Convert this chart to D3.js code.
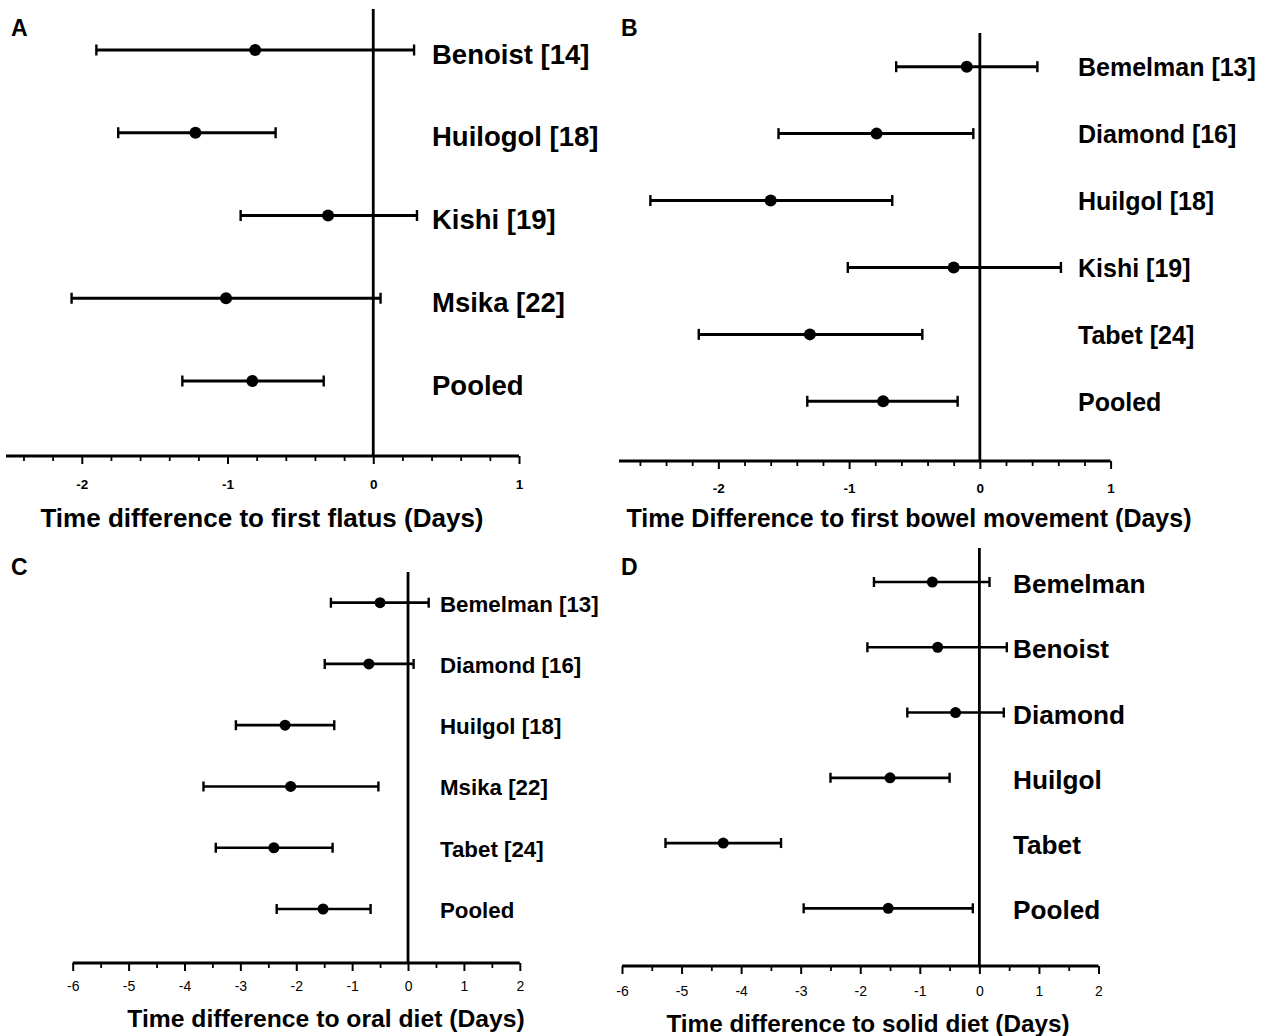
<!DOCTYPE html>
<html>
<head>
<meta charset="utf-8">
<script src="https://cdn.jsdelivr.net/npm/d3@7"></script>
<style>
    body { margin: 0; background: #fff; }
    svg { display: block; font-family: "Liberation Sans", Arial, sans-serif; }
</style>
</head>
<body>
<svg id="chart"></svg>
<script>
// Panel A - first flatus
const studiesA = ["Benoist [14]", "Huilogol [18]", "Kishi [19]", "Msika [22]", "Pooled"];
const meanA = [-0.81, -1.22, -0.31, -1.01, -0.83];
const lowA = [-1.90, -1.75, -0.91, -2.07, -1.31];
const highA = [0.28, -0.67, 0.30, 0.05, -0.34];
const ticksA = [-2, -1, 0, 1];

// Panel B - first bowel movement
const studiesB = ["Bemelman [13]", "Diamond [16]", "Huilgol [18]", "Kishi [19]", "Tabet [24]", "Pooled"];
const meanB = [-0.10, -0.79, -1.60, -0.20, -1.30, -0.74];
const lowB = [-0.64, -1.54, -2.52, -1.01, -2.15, -1.32];
const highB = [0.44, -0.05, -0.67, 0.62, -0.44, -0.17];
const ticksB = [-2, -1, 0, 1];

// Panel C - oral diet
const studiesC = ["Bemelman [13]", "Diamond [16]", "Huilgol [18]", "Msika [22]", "Tabet [24]", "Pooled"];
const meanC = [-0.50, -0.70, -2.20, -2.10, -2.40, -1.52];
const lowC = [-1.38, -1.49, -3.08, -3.66, -3.44, -2.35];
const highC = [0.37, 0.10, -1.32, -0.53, -1.35, -0.67];
const ticksC = [-6, -5, -4, -3, -2, -1, 0, 1, 2];

// Panel D - solid diet
const studiesD = ["Bemelman", "Benoist", "Diamond", "Huilgol", "Tabet", "Pooled"];
const meanD = [-0.79, -0.70, -0.40, -1.50, -4.30, -1.53];
const lowD = [-1.77, -1.88, -1.21, -2.50, -5.27, -2.95];
const highD = [0.17, 0.46, 0.41, -0.50, -3.33, -0.11];
const ticksD = [-6, -5, -4, -3, -2, -1, 0, 1, 2];

const svg = d3.select("#chart").attr("width", 1267).attr("height", 1036);
svg.append("rect").attr("width", 1267).attr("height", 1036).attr("fill", "#fff");

const panels = [
    {
        letter: "A", letterX: 11, letterY: 36,
        studies: studiesA, mean: meanA, low: lowA, high: highA, ticks: ticksA,
        domain: [-2.52, 1], range: [6, 519], minorStep: 0.2,
        rows: [50, 381], lineTop: 9, axisY: 456,
        labelX: 432, labelSize: 27.5, labelDy: 4,
        tickBold: true, tickSize: 13.5, tickY: 489,
        title: "Time difference to first flatus (Days)", titleX: 262, titleY: 527, titleSize: 26,
        capH: 11, r: 6, barW: 3, axisW: 3.2
    },
    {
        letter: "B", letterX: 621, letterY: 36,
        studies: studiesB, mean: meanB, low: lowB, high: highB, ticks: ticksB,
        domain: [-2.76, 1], range: [619, 1110.6], minorStep: 0.2,
        rows: [66.7, 401.3], lineTop: 33, axisY: 461,
        labelX: 1078, labelSize: 25, labelDy: 1,
        tickBold: true, tickSize: 13.5, tickY: 493,
        title: "Time Difference to first bowel movement (Days)", titleX: 909, titleY: 527, titleSize: 25,
        capH: 11, r: 6, barW: 3, axisW: 3.2
    },
    {
        letter: "C", letterX: 11, letterY: 575,
        studies: studiesC, mean: meanC, low: lowC, high: highC, ticks: ticksC,
        domain: [-6, 2], range: [72.7, 519.8], minorStep: 0.5,
        rows: [602.7, 909], lineTop: 572, axisY: 963,
        labelX: 440, labelSize: 22.3, labelDy: 1,
        tickBold: false, tickSize: 14, tickY: 991,
        title: "Time difference to oral diet (Days)", titleX: 326, titleY: 1027, titleSize: 24.7,
        capH: 10, r: 5.5, barW: 2.7, axisW: 2.8
    },
    {
        letter: "D", letterX: 621, letterY: 575,
        studies: studiesD, mean: meanD, low: lowD, high: highD, ticks: ticksD,
        domain: [-6, 2], range: [622, 1098.5], minorStep: 0.5,
        rows: [582, 908.3], lineTop: 548, axisY: 966,
        labelX: 1013, labelSize: 26.2, labelDy: 2,
        tickBold: false, tickSize: 14, tickY: 996,
        title: "Time difference to solid diet (Days)", titleX: 868, titleY: 1032, titleSize: 24.3,
        capH: 10, r: 5.5, barW: 2.7, axisW: 2.8
    }
];

panels.forEach(p => {
    const g = svg.append("g");
    const x = d3.scaleLinear().domain(p.domain).range(p.range);
    const y = d3.scalePoint().domain(p.studies).range(p.rows);

    // panel letter
    g.append("text")
        .attr("x", p.letterX)
        .attr("y", p.letterY)
        .attr("font-size", 23)
        .attr("font-weight", "bold")
        .text(p.letter);

    // minor ticks
    const minor = d3.range(Math.ceil(p.domain[0] / p.minorStep) * p.minorStep, p.domain[1] + 1e-6, p.minorStep)
        .filter(v => Math.abs(v - Math.round(v)) > 1e-6);
    g.append("g")
        .attr("transform", `translate(0,${p.axisY})`)
        .call(d3.axisBottom(x).tickValues(minor).tickSize(5).tickFormat(""))
        .call(a => a.select(".domain").remove())
        .call(a => a.selectAll("line").attr("stroke", "#000").attr("stroke-width", 1.8));

    // major ticks + axis line
    const axis = g.append("g")
        .attr("transform", `translate(0,${p.axisY})`)
        .call(d3.axisBottom(x).tickValues(p.ticks).tickSize(8).tickSizeOuter(0).tickFormat(d => String(d)));
    axis.select(".domain")
        .attr("d", `M${p.range[0]},0H${p.range[1]}`)
        .attr("stroke", "#000")
        .attr("stroke-width", p.axisW);
    axis.selectAll(".tick line").attr("stroke", "#000").attr("stroke-width", 2);
    axis.selectAll(".tick text")
        .attr("y", p.tickY - p.axisY)
        .attr("dy", 0)
        .attr("fill", "#000")
        .attr("font-family", "\"Liberation Sans\", Arial, sans-serif")
        .attr("font-size", p.tickSize)
        .attr("font-weight", p.tickBold ? "bold" : "normal");

    // zero line
    g.append("line")
        .attr("x1", x(0)).attr("x2", x(0))
        .attr("y1", p.lineTop).attr("y2", p.axisY)
        .attr("stroke", "#000")
        .attr("stroke-width", 2.8);

    // error bars
    const rows = p.studies.map((s, i) => ({ s, m: p.mean[i], lo: p.low[i], hi: p.high[i] }));
    const bar = g.selectAll("g.bar").data(rows).enter().append("g").attr("class", "bar");
    bar.append("line")
        .attr("x1", d => x(d.lo)).attr("x2", d => x(d.hi))
        .attr("y1", d => y(d.s)).attr("y2", d => y(d.s))
        .attr("stroke", "#000").attr("stroke-width", p.barW);
    bar.selectAll("line.cap")
        .data(d => [{ v: d.lo, s: d.s }, { v: d.hi, s: d.s }])
        .enter().append("line")
        .attr("class", "cap")
        .attr("x1", d => x(d.v)).attr("x2", d => x(d.v))
        .attr("y1", d => y(d.s) - p.capH / 2).attr("y2", d => y(d.s) + p.capH / 2)
        .attr("stroke", "#000").attr("stroke-width", 2.4);
    bar.append("circle")
        .attr("cx", d => x(d.m))
        .attr("cy", d => y(d.s))
        .attr("r", p.r)
        .attr("fill", "#000");

    // study labels
    g.selectAll("text.study").data(p.studies).enter().append("text")
        .attr("class", "study")
        .attr("x", p.labelX)
        .attr("y", d => y(d) + p.labelDy)
        .attr("dy", "0.35em")
        .attr("font-size", p.labelSize)
        .attr("font-weight", "bold")
        .text(d => d);

    // axis title
    g.append("text")
        .attr("x", p.titleX)
        .attr("y", p.titleY)
        .attr("text-anchor", "middle")
        .attr("font-size", p.titleSize)
        .attr("font-weight", "bold")
        .text(p.title);
});
</script>
</body>
</html>
